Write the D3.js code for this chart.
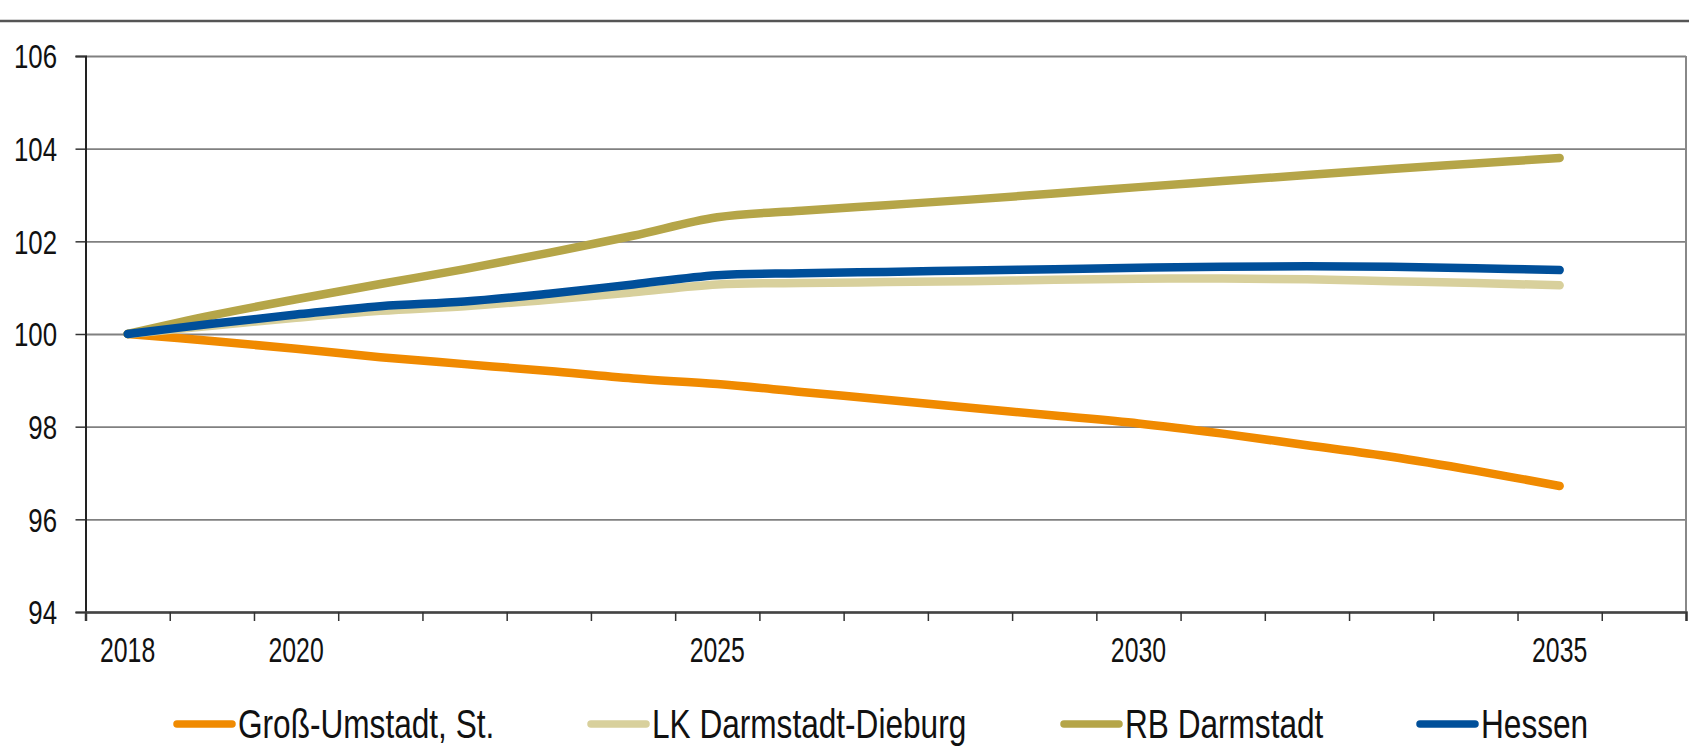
<!DOCTYPE html>
<html>
<head>
<meta charset="utf-8">
<script src="https://cdn.jsdelivr.net/npm/d3@7"></script>
<style>
html,body{margin:0;padding:0;background:#fff;}
svg{display:block;}
text{font-family:'Liberation Sans Narrow','Arial Narrow','Liberation Sans',Arial,sans-serif;fill:#111;}
</style>
</head>
<body>
<svg id="chart" width="1689" height="746"></svg>
<script>
// ---- data ----
const years = [2018,2019,2020,2021,2022,2023,2024,2025,2026,2027,2028,2029,2030,2031,2032,2033,2034,2035];
const slots = [2018,2019,2020,2021,2022,2023,2024,2025,2026,2027,2028,2029,2030,2031,2032,2033,2034,2035,2036];
const xLabels = [2018,2020,2025,2030,2035];
const yTicks = [94,96,98,100,102,104,106];
const seriesNames = ["Groß-Umstadt, St.","LK Darmstadt-Dieburg","RB Darmstadt","Hessen"];
const grossUmstadt = [100,99.85,99.68,99.5,99.35,99.2,99.04,98.92,98.75,98.58,98.41,98.24,98.07,97.85,97.6,97.35,97.05,96.72];
const lkDarmstadtDieburg = [100,100.18,100.35,100.5,100.6,100.74,100.9,101.07,101.1,101.12,101.14,101.17,101.19,101.2,101.18,101.14,101.1,101.05];
const rbDarmstadt = [100,100.4,100.75,101.08,101.4,101.75,102.12,102.52,102.66,102.78,102.9,103.03,103.17,103.3,103.43,103.56,103.68,103.8];
const hessen = [100,100.22,100.42,100.6,100.7,100.87,101.07,101.27,101.31,101.34,101.37,101.4,101.43,101.45,101.46,101.45,101.42,101.38];
const colors = ["#f08a00","#d8d09c","#b5a548","#004f9a"];

// ---- layout ----
const svg = d3.select("#chart");
const L = 85.5, R = 1686, T = 56, B = 612;

const x = d3.scaleBand().domain(slots).range([L, R]).paddingInner(0).paddingOuter(0);
const xb = d3.scaleLinear().domain([0, slots.length]).range([L, R]);
const y = d3.scaleLinear().domain([94,106]).range([B, T]);

// top rule
svg.append("line").attr("x1",0).attr("x2",1689).attr("y1",21).attr("y2",21)
  .attr("stroke","#555").attr("stroke-width",2.5);

// gridlines
const grid = svg.append("g").attr("transform",`translate(${L},0)`)
  .call(d3.axisLeft(y).tickValues(yTicks).tickSize(-(R-L)).tickFormat(""));
grid.select(".domain").remove();
grid.selectAll("line").attr("stroke","#808080").attr("stroke-width",1.8);

// right border
svg.append("line").attr("x1",R).attr("x2",R).attr("y1",T).attr("y2",B)
  .attr("stroke","#888").attr("stroke-width",2);

// y axis (ticks)
const ya = svg.append("g").attr("transform",`translate(${L},0)`)
  .call(d3.axisLeft(y).tickValues(yTicks).tickSize(10).tickFormat(""));
ya.select(".domain").attr("stroke","#222").attr("stroke-width",2);
ya.selectAll("line").attr("stroke","#333").attr("stroke-width",1.5);

// y labels
svg.append("g").selectAll("text").data(yTicks).join("text")
  .attr("transform", d => `translate(57,${y(d)}) scale(0.76,1)`)
  .attr("dy","0.36em")
  .attr("text-anchor","end")
  .style("font-size","34px")
  .text(d => d);

// x axis ticks at band boundaries
const xa = svg.append("g").attr("transform",`translate(0,${B})`)
  .call(d3.axisBottom(xb).tickValues(d3.range(0, slots.length+1)).tickSize(9).tickFormat(""));
xa.select(".domain").attr("stroke","#444").attr("stroke-width",2.5);
xa.selectAll("line").attr("stroke","#333").attr("stroke-width",1.5);

// x labels
svg.append("g").selectAll("text").data(xLabels).join("text")
  .attr("transform", d => `translate(${x(d) + x.bandwidth()/2},662) scale(0.71,1)`)
  .attr("text-anchor","middle")
  .style("font-size","35px")
  .text(d => d);

// lines
const allSeries = [grossUmstadt, lkDarmstadtDieburg, rbDarmstadt, hessen];
const line = d3.line()
  .x((d,i) => x(years[i]) + x.bandwidth()/2)
  .y(d => y(d))
  .curve(d3.curveCardinal.tension(0));
svg.append("g").selectAll("path").data(allSeries).join("path")
  .attr("d", d => line(d))
  .attr("fill","none")
  .attr("stroke",(d,i) => colors[i])
  .attr("stroke-width",8.5)
  .attr("stroke-linecap","round")
  .attr("stroke-linejoin","round");

// legend
const legX = [177, 591, 1064, 1420];
const leg = svg.append("g").selectAll("g").data(seriesNames).join("g")
  .attr("transform",(d,i) => `translate(${legX[i]},0)`);
leg.append("line").attr("x1",0).attr("x2",55).attr("y1",724).attr("y2",724)
  .attr("stroke",(d,i) => colors[i]).attr("stroke-width",7.5).attr("stroke-linecap","round");
leg.append("text")
  .attr("transform",`translate(61,738) scale(0.79,1)`)
  .style("font-size","40px").text(d => d);
</script>
</body>
</html>
